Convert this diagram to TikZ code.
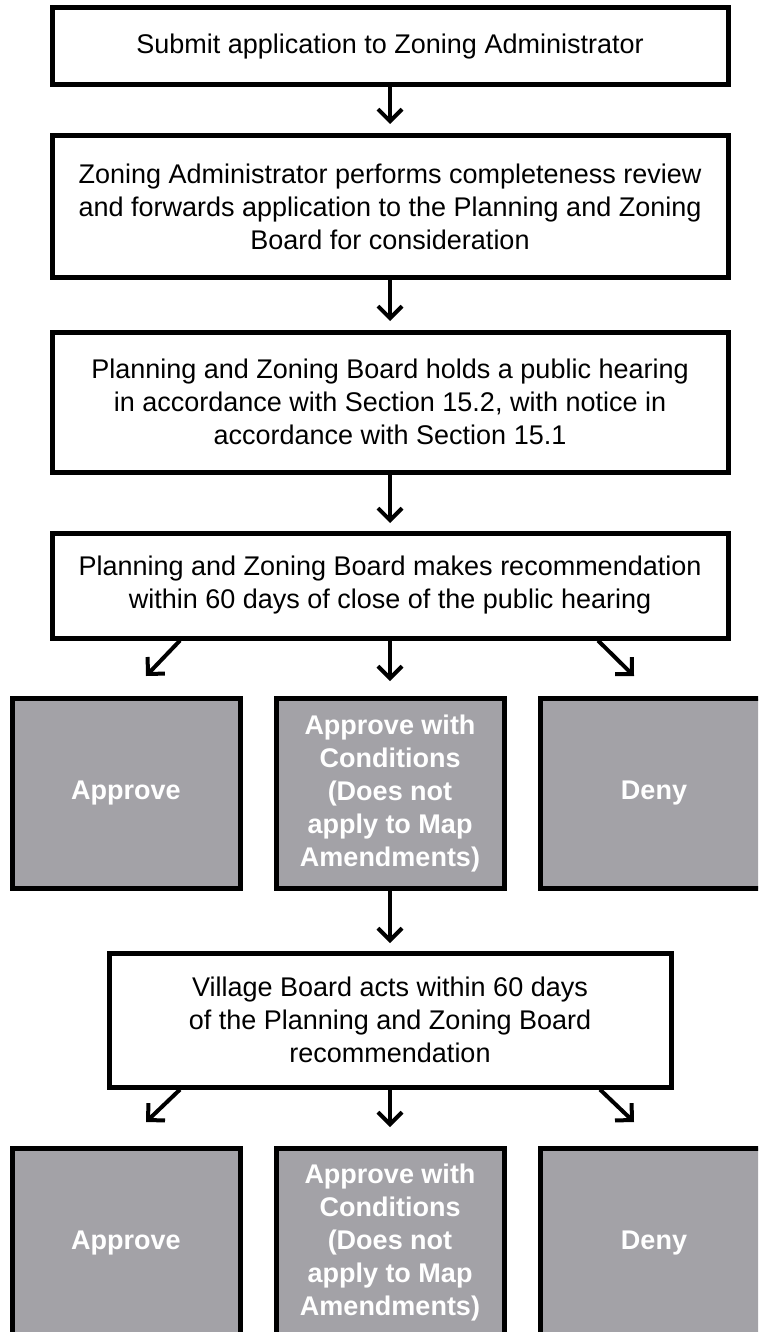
\documentclass[tikz,border=0pt]{standalone}
\usepackage{fontspec}
\setmainfont{Liberation Sans}
\usetikzlibrary{arrows.meta}
\definecolor{boxgray}{RGB}{163,162,167}
\begin{document}
\begin{tikzpicture}[x=1pt,y=-1pt,
  wbox/.style={draw=black, line width=5pt, fill=white, inner sep=0pt,
    font=\fontsize{27}{33}\selectfont, align=center},
  gbox/.style={draw=black, line width=5pt, fill=boxgray, inner sep=0pt,
    text=white, font=\fontsize{27}{33}\selectfont\bfseries, align=center,
    minimum width=228pt, minimum height=190pt},
  arr/.style={line width=4pt, -{Straight Barb[length=12pt,width=24pt,line width=4pt]}}
]
\useasboundingbox (0,0) rectangle (758,1332);
\clip (0,0) rectangle (758,1332);

\node[wbox, minimum width=676pt, minimum height=77pt] (b1) at (390,46.5)
  {Submit application to Zoning Administrator};
\node[wbox, minimum width=676pt, minimum height=141pt] (b2) at (390,206.5)
  {Zoning Administrator performs completeness review\\and forwards application to the Planning and Zoning\\Board for consideration};
\node[wbox, minimum width=676pt, minimum height=140pt] (b3) at (390,402)
  {Planning and Zoning Board holds a public hearing\\in accordance with Section 15.2, with notice in\\accordance with Section 15.1};
\node[wbox, minimum width=676pt, minimum height=105pt] (b4) at (390,585.5)
  {Planning and Zoning Board makes recommendation\\within 60 days of close of the public hearing};

\node[gbox] (g1) at (126,793.5) {Approve};
\node[gbox] (g2) at (390,793.5) {Approve with\\Conditions\\(Does not\\apply to Map\\Amendments)};
\node[gbox] (g3) at (654,793.5) {Deny};

\node[wbox, minimum width=562pt, minimum height=134pt] (b5) at (390,1020)
  {Village Board acts within 60 days\\of the Planning and Zoning Board\\recommendation};

\node[gbox] (h1) at (126,1243) {Approve};
\node[gbox] (h2) at (390,1243) {Approve with\\Conditions\\(Does not\\apply to Map\\Amendments)};
\node[gbox] (h3) at (654,1243) {Deny};

\coordinate (t1) at (390,124);
\coordinate (t2) at (390,321);
\coordinate (t3) at (390,523);
\coordinate (t4l) at (146,676);
\coordinate (t4c) at (390,681);
\coordinate (t4r) at (634,676);
\coordinate (t5) at (390,943);
\coordinate (t6l) at (146,1122);
\coordinate (t6c) at (390,1127);
\coordinate (t6r) at (634,1122);

\draw[arr] (b1.south) -- (t1);
\draw[arr] (b2.south) -- (t2);
\draw[arr] (b3.south) -- (t3);
\draw[arr] ([xshift=-210pt]b4.south) -- (t4l);
\draw[arr] (b4.south) -- (t4c);
\draw[arr] ([xshift=208pt]b4.south) -- (t4r);
\draw[arr] (g2.south) -- (t5);
\draw[arr] ([xshift=-210pt]b5.south) -- (t6l);
\draw[arr] (b5.south) -- (t6c);
\draw[arr] ([xshift=210pt]b5.south) -- (t6r);
\end{tikzpicture}
\end{document}
